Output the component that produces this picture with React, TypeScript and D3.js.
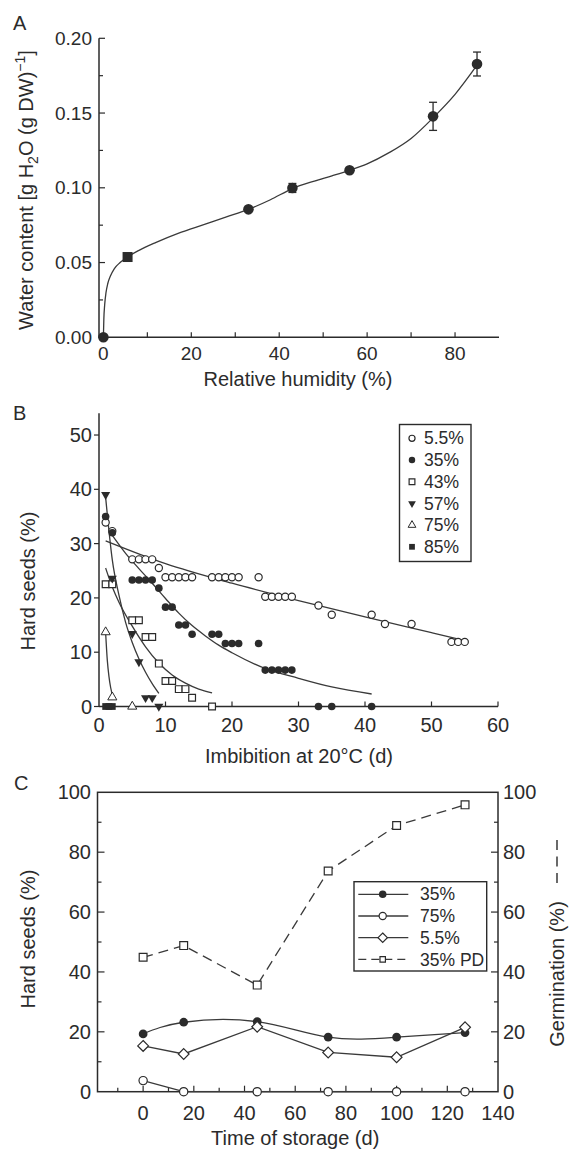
import React from "react";
import * as d3 from "d3";

// ---- panel A: sorption isotherm
const rhA = [0, 5.5, 33, 43, 56, 75, 85];
const wcA = [0, 0.0537, 0.0856, 0.0999, 0.1117, 0.1478, 0.1828];
const wcErrA = [0, 0, 0, 0.003, 0, 0.0094, 0.008];
const markerA = ["circle", "square", "circle", "circle", "circle", "circle", "circle"];
// fitted curve
const fitRhA = [0, 0.1, 0.3, 0.6, 1, 1.6, 2.5, 3.8, 5.5, 8, 12, 17, 23, 28, 33, 38, 43, 48, 52, 56, 60, 65, 70, 75, 80, 85];
const fitWcA = [0, 0.012, 0.022, 0.03, 0.036, 0.041, 0.046, 0.05, 0.0537, 0.058, 0.0635, 0.0695, 0.0755, 0.0805, 0.0856, 0.092, 0.0995, 0.1045, 0.108, 0.1117, 0.116, 0.1235, 0.133, 0.1468, 0.1625, 0.182];

// ---- panel B: hard seeds during imbibition
const b55x = [1, 2, 5, 6, 7, 8, 9, 10, 11, 12, 13, 14, 17, 18, 19, 20, 21, 24, 25, 26, 27, 28, 29, 33, 35, 41, 43, 47, 53, 54, 55];
const b55y = [33.9, 32.3, 27.1, 27.1, 27.1, 27.1, 25.5, 23.8, 23.8, 23.8, 23.8, 23.8, 23.8, 23.8, 23.8, 23.8, 23.8, 23.8, 20.2, 20.2, 20.2, 20.2, 20.2, 18.6, 16.9, 16.9, 15.2, 15.2, 11.9, 11.9, 11.9];
const b35x = [1, 2, 5, 6, 7, 8, 9, 10, 11, 12, 13, 14, 17, 18, 19, 20, 21, 24, 25, 26, 27, 28, 29, 33, 35, 41];
const b35y = [35, 32, 23.3, 23.3, 23.3, 23.3, 21.8, 18.3, 18.3, 15, 15, 13.3, 13.3, 13.3, 11.6, 11.6, 11.6, 11.6, 6.7, 6.7, 6.7, 6.7, 6.7, 0, 0, 0];
const b43x = [1, 2, 5, 6, 7, 8, 9, 10, 11, 12, 13, 14, 17];
const b43y = [22.5, 22.5, 15.9, 15.9, 12.8, 12.8, 7.9, 4.7, 4.7, 3.2, 3.2, 1.6, 0];
const b57x = [1, 2, 5, 6, 7, 8, 9];
const b57y = [39, 23.6, 13.4, 8.2, 1.6, 1.6, 0];
const b75x = [1, 2, 5];
const b75y = [13.7, 1.7, 0];
const b85x = [1, 1.5, 2];
const b85y = [0, 0, 0];

const fit55x = [1, 10, 20, 30, 40, 50, 55.5];
const fit55y = [30.5, 26.3, 22.7, 19.5, 16.5, 13.6, 12];
const fit35x = [2, 4, 6, 8, 10, 12, 14, 16, 18, 20, 25, 30, 35, 41];
const fit35y = [31.5, 28.2, 25.4, 22.7, 19.9, 17.2, 14.9, 13, 11.3, 9.9, 7, 5.2, 3.6, 2.3];
const fit43x = [1, 2, 3, 5, 7, 9, 11, 13, 15, 17];
const fit43y = [25.5, 22, 19.2, 14.8, 11, 8, 5.8, 4.3, 3.2, 2.5];
const fit57x = [1, 2, 3, 4, 5, 6, 7, 8, 9];
const fit57y = [38.5, 27, 20.5, 15.5, 11.8, 8.8, 6.3, 4.2, 2.4];
const fit75x = [1, 1.25, 1.5, 1.75, 2.1];
const fit75y = [13.5, 8.5, 5.5, 3.5, 1.8];

const legendB = ["5.5%", "35%", "43%", "57%", "75%", "85%"];

// ---- panel C: storage
const storageDays = [0, 16, 45, 73, 100, 127];
const hard35 = [19.3, 23.2, 23.4, 18.2, 18.2, 19.7];
const hard75 = [3.7, 0, 0, 0, 0, 0];
const hard55 = [15.3, 12.6, 21.7, 13.1, 11.5, 21.5];
const germ35PD = [44.9, 48.8, 35.6, 73.7, 88.9, 95.8];
const legendC = ["35%", "75%", "5.5%", "35% PD"];

const FONT = "'Liberation Sans', Arial, sans-serif";
const INK = "#2b2b2b";
const LINE = "#3a3a3a";

const sym = (type: any, size: number) => d3.symbol().type(type).size(size)() as string;

function Marker({ kind, x, y, s = 1 }: { kind: string; x: number; y: number; s?: number }) {
  const common = { stroke: INK, strokeWidth: 1.2 };
  if (kind === "oc") return <circle cx={x} cy={y} r={3.6 * s} fill="white" {...common} />;
  if (kind === "fc") return <circle cx={x} cy={y} r={3.8 * s} fill={INK} />;
  if (kind === "os") return <path d={sym(d3.symbolSquare, 46 * s * s)} transform={`translate(${x},${y})`} fill="white" {...common} />;
  if (kind === "fs") return <path d={sym(d3.symbolSquare, 46 * s * s)} transform={`translate(${x},${y})`} fill={INK} />;
  if (kind === "ftd") return <path d={sym(d3.symbolTriangle, 36 * s * s)} transform={`translate(${x},${y}) rotate(180)`} fill={INK} />;
  if (kind === "otu") return <path d={sym(d3.symbolTriangle, 36 * s * s)} transform={`translate(${x},${y})`} fill="white" stroke={INK} strokeWidth={1} />;
  if (kind === "od") return <path d={sym(d3.symbolDiamond2, 56 * s * s)} transform={`translate(${x},${y})`} fill="white" {...common} />;
  return null;
}

function PanelA() {
  const x = d3.scaleLinear().domain([-1, 90]).range([99, 499]);
  const y = d3.scaleLinear().domain([0, 0.2]).range([337.3, 38.3]);
  const fit = d3.line<number>().x((_, i) => x(fitRhA[i])).y(d => y(d)).curve(d3.curveMonotoneX);
  const yMinor = d3.range(0, 0.2001, 0.025);
  return (
    <g>
      <text x={13} y={30} fontSize={20} fill={INK}>A</text>
      <path d={fit(fitWcA) as string} fill="none" stroke={LINE} strokeWidth={1.3} />
      <line x1={99} x2={99} y1={y(0.2)} y2={y(0)} stroke={INK} strokeWidth={1.5} />
      <line x1={99} x2={499} y1={y(0)} y2={y(0)} stroke={INK} strokeWidth={1.5} />
      {yMinor.map((t, i) => (
        <line key={i} x1={99} x2={99 + (i % 2 === 0 ? 6 : 4)} y1={y(t)} y2={y(t)} stroke={INK} strokeWidth={1.2} />
      ))}
      {y.ticks(4).map(t => (
        <text key={t} x={92} y={y(t)} dy="0.35em" textAnchor="end" fontSize={19} fill={INK}>{d3.format(".2f")(t)}</text>
      ))}
      {d3.range(10, 90, 10).map(t => (
        <line key={t} x1={x(t)} x2={x(t)} y1={y(0)} y2={y(0) - 5} stroke={INK} strokeWidth={1.2} />
      ))}
      {[0, 20, 40, 60, 80].map(t => (
        <text key={t} x={x(t)} y={360} textAnchor="middle" fontSize={19} fill={INK}>{t}</text>
      ))}
      {rhA.map((r, i) => wcErrA[i] > 0 && (
        <g key={"e" + i} stroke={INK} strokeWidth={1.3}>
          <line x1={x(r)} x2={x(r)} y1={y(wcA[i] - wcErrA[i])} y2={y(wcA[i] + wcErrA[i])} />
          <line x1={x(r) - 4} x2={x(r) + 4} y1={y(wcA[i] - wcErrA[i])} y2={y(wcA[i] - wcErrA[i])} />
          <line x1={x(r) - 4} x2={x(r) + 4} y1={y(wcA[i] + wcErrA[i])} y2={y(wcA[i] + wcErrA[i])} />
        </g>
      ))}
      {rhA.map((r, i) => markerA[i] === "square"
        ? <rect key={i} x={x(r) - 5} y={y(wcA[i]) - 5} width={10} height={10} fill={INK} />
        : <circle key={i} cx={x(r)} cy={y(wcA[i])} r={5.3} fill={INK} />)}
      <text x={298} y={386} textAnchor="middle" fontSize={20} fill={INK}>Relative humidity (%)</text>
      <text transform="translate(33,190) rotate(-90)" textAnchor="middle" fontSize={20} fill={INK}>
        Water content [g H<tspan fontSize={14} dy={5}>2</tspan><tspan dy={-5}>O (g DW)</tspan>
        <tspan fontSize={14} dy={-8}>−1</tspan><tspan dy={8}>]</tspan>
      </text>
    </g>
  );
}

function PanelB() {
  const x = d3.scaleLinear().domain([0, 60]).range([99, 498]);
  const y = d3.scaleLinear().domain([0, 54]).range([706.5, 413.3]);
  const mk = (xs: number[]) => d3.line<number>().x((_, i) => x(xs[i])).y(d => y(d)).curve(d3.curveMonotoneX);
  const fits: [number[], number[]][] = [[fit55x, fit55y], [fit35x, fit35y], [fit43x, fit43y], [fit57x, fit57y], [fit75x, fit75y]];
  const series: [number[], number[], string][] = [
    [b85x, b85y, "fs"], [b43x, b43y, "os"], [b55x, b55y, "oc"], [b35x, b35y, "fc"], [b75x, b75y, "otu"], [b57x, b57y, "ftd"],
  ];
  const legendKinds = ["oc", "fc", "os", "ftd", "otu", "fs"];
  return (
    <g>
      <text x={13} y={420} fontSize={20} fill={INK}>B</text>
      {fits.map(([xs, ys], i) => (
        <path key={i} d={mk(xs)(ys) as string} fill="none" stroke={LINE} strokeWidth={1.3} />
      ))}
      <line x1={99} x2={99} y1={y(54)} y2={y(0)} stroke={INK} strokeWidth={1.5} />
      <line x1={99} x2={498} y1={y(0)} y2={y(0)} stroke={INK} strokeWidth={1.5} />
      {y.ticks(5).map(t => (
        <g key={t}>
          <line x1={94} x2={99} y1={y(t)} y2={y(t)} stroke={INK} strokeWidth={1.2} />
          <text x={92} y={y(t)} dy="0.35em" textAnchor="end" fontSize={20} fill={INK}>{t}</text>
        </g>
      ))}
      {x.ticks(6).map(t => (
        <g key={t}>
          {t > 0 && <line x1={x(t)} x2={x(t)} y1={y(0)} y2={y(0) - 5} stroke={INK} strokeWidth={1.2} />}
          <text x={x(t)} y={732} textAnchor="middle" fontSize={20} fill={INK}>{t}</text>
        </g>
      ))}
      {series.map(([xs, ys, kind], si) => (
        <g key={si}>{xs.map((v, i) => <Marker key={i} kind={kind} x={x(v)} y={y(ys[i])} />)}</g>
      ))}
      <rect x={399.5} y={424.5} width={71.5} height={137} fill="white" stroke={INK} strokeWidth={1.4} />
      {legendB.map((lab, i) => (
        <g key={lab}>
          <Marker kind={legendKinds[i]} x={412} y={438.3 + i * 21.7} s={0.85} />
          <text x={424} y={438.3 + i * 21.7} dy="0.35em" fontSize={17.5} fill={INK}>{lab}</text>
        </g>
      ))}
      <text x={299} y={763} textAnchor="middle" fontSize={20} fill={INK}>Imbibition at 20°C (d)</text>
      <text transform="translate(35,581) rotate(-90)" textAnchor="middle" fontSize={20} fill={INK}>Hard seeds (%)</text>
    </g>
  );
}

function PanelC() {
  const x = d3.scaleLinear().domain([-18, 140]).range([97.5, 498]);
  const y = d3.scaleLinear().domain([0, 100]).range([1091.7, 792.3]);
  const straight = d3.line<number>().x((_, i) => x(storageDays[i])).y(d => y(d));
  const smooth = d3.line<number>().x((_, i) => x(storageDays[i])).y(d => y(d)).curve(d3.curveNatural);
  const [x0, x1] = x.range();
  const [yb, yt] = y.range();
  const legendKinds = ["fc", "oc", "od", "os"];
  return (
    <g>
      <text x={14} y={790} fontSize={20} fill={INK}>C</text>
      <rect x={x0} y={yt} width={x1 - x0} height={yb - yt} fill="none" stroke={INK} strokeWidth={1.5} />
      {d3.range(10, 100, 10).map(t => (
        <g key={t} stroke={INK} strokeWidth={1.2}>
          <line x1={x0} x2={x0 + (t % 20 === 0 ? 7 : 4)} y1={y(t)} y2={y(t)} />
          <line x1={x1} x2={x1 - (t % 20 === 0 ? 7 : 4)} y1={y(t)} y2={y(t)} />
        </g>
      ))}
      {d3.range(-10, 140, 10).map(t => (
        <line key={t} x1={x(t)} x2={x(t)} y1={yb} y2={yb - (t % 20 === 0 ? 6 : 4)} stroke={INK} strokeWidth={1.2} />
      ))}
      {y.ticks(5).map(t => (
        <g key={t}>
          <text x={91} y={y(t)} dy="0.35em" textAnchor="end" fontSize={20} fill={INK}>{t}</text>
          <text x={503} y={y(t)} dy="0.35em" textAnchor="start" fontSize={20} fill={INK}>{t}</text>
        </g>
      ))}
      {d3.range(0, 141, 20).map(t => (
        <text key={t} x={x(t)} y={1120} textAnchor="middle" fontSize={20} fill={INK}>{t}</text>
      ))}
      <path d={straight(germ35PD) as string} fill="none" stroke={LINE} strokeWidth={1.3} strokeDasharray="10 6" />
      <path d={smooth(hard35) as string} fill="none" stroke={LINE} strokeWidth={1.3} />
      <path d={straight(hard55) as string} fill="none" stroke={LINE} strokeWidth={1.3} />
      <path d={straight(hard75) as string} fill="none" stroke={LINE} strokeWidth={1.3} />
      {storageDays.map((d, i) => (
        <g key={d}>
          <Marker kind="os" x={x(d)} y={y(germ35PD[i])} s={1.15} />
          <Marker kind="fc" x={x(d)} y={y(hard35[i])} s={1.15} />
          <Marker kind="od" x={x(d)} y={y(hard55[i])} s={1.15} />
          <Marker kind="oc" x={x(d)} y={y(hard75[i])} s={1.15} />
        </g>
      ))}
      <rect x={354} y={881.7} width={132.7} height={89.3} fill="white" stroke={INK} strokeWidth={1.4} />
      {legendC.map((lab, i) => {
        const ly = 894.3 + i * 21.7;
        return (
          <g key={lab}>
            <line x1={358.3} x2={408.3} y1={ly} y2={ly} stroke={LINE} strokeWidth={1.3} strokeDasharray={i === 3 ? "8 5" : undefined} />
            <Marker kind={legendKinds[i]} x={382.7} y={ly} s={i === 3 ? 0.8 : 1} />
            <text x={420} y={ly} dy="0.35em" fontSize={17.5} fill={INK}>{lab}</text>
          </g>
        );
      })}
      <text x={x(60)} y={1145} textAnchor="middle" fontSize={20} fill={INK}>Time of storage (d)</text>
      <text transform="translate(35,939) rotate(-90)" textAnchor="middle" fontSize={20} fill={INK}>Hard seeds (%)</text>
      <text transform="translate(564,974) rotate(-90)" textAnchor="middle" fontSize={20} fill={INK}>Germination (%)</text>
      <line x1={557} x2={557} y1={883} y2={840} stroke={INK} strokeWidth={1.4} strokeDasharray="10 6.5" />
    </g>
  );
}

export default function App() {
  return (
    <svg width={569} height={1150} style={{ position: "absolute", left: 0, top: 0, background: "white" }} fontFamily={FONT}>
      <PanelA />
      <PanelB />
      <PanelC />
    </svg>
  );
}
